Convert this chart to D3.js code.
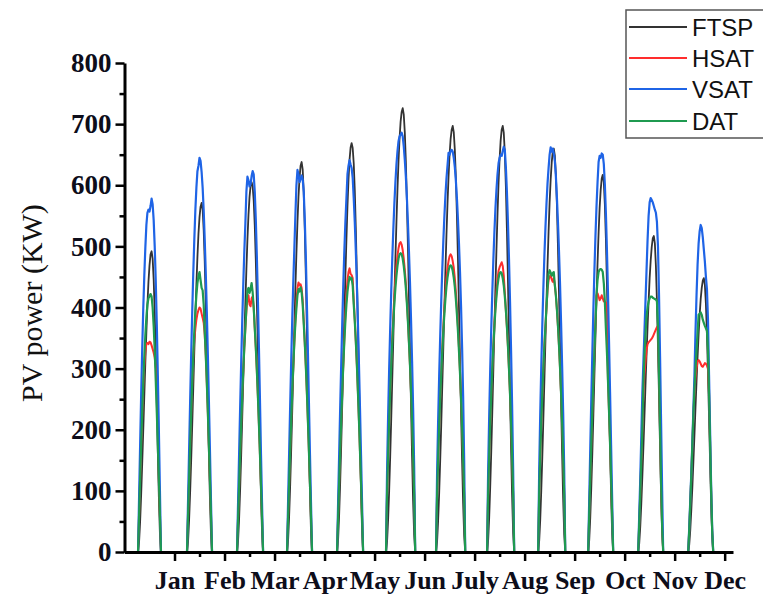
<!DOCTYPE html>
<html>
<head>
<meta charset="utf-8">
<script src="https://cdn.jsdelivr.net/npm/d3@7"></script>
<style>
  html, body { margin: 0; padding: 0; background: #ffffff; }
  svg { display: block; }
</style>
</head>
<body>
<svg id="chart" width="763" height="599"></svg>
<script>
// Month tick labels (one representative day per month, 24 h each)
const months = ["Jan", "Feb", "Mar", "Apr", "May", "Jun", "July", "Aug", "Sep", "Oct", "Nov", "Dec"];

// Hour of the first daylight sample for each month's day, and sample step (h)
const dayStart = [6.5, 6, 6, 6, 6, 5.5, 5.5, 6, 6.5, 6.5, 6.5, 6.5];
const stepHours = 0.5;

// PV power (kW), half-hourly daylight samples per month
const FTSP = [
  [0, 17, 50, 94, 145, 199, 255, 310, 360, 405, 442, 469, 487, 492, 480, 446, 391, 321, 243, 162, 89, 30, 0],
  [0, 17, 52, 98, 150, 208, 268, 328, 385, 437, 483, 521, 548, 565, 571, 560, 527, 475, 407, 328, 244, 162, 87, 29, 0],
  [0, 18, 55, 103, 159, 220, 284, 347, 408, 463, 512, 552, 581, 599, 605, 598, 575, 535, 478, 410, 335, 255, 172, 95, 32, 0],
  [0, 19, 58, 109, 168, 232, 299, 366, 431, 489, 540, 582, 612, 632, 638, 626, 589, 530, 454, 366, 272, 181, 98, 33, 0],
  [0, 20, 61, 114, 176, 244, 314, 384, 452, 512, 566, 610, 642, 662, 669, 661, 636, 592, 529, 454, 370, 282, 190, 105, 35, 0],
  [0, 17, 53, 100, 156, 218, 284, 350, 417, 481, 540, 594, 640, 677, 704, 720, 726, 716, 687, 640, 576, 501, 417, 328, 240, 156, 83, 28, 0],
  [0, 17, 51, 96, 150, 209, 273, 336, 400, 461, 519, 570, 614, 650, 676, 691, 697, 687, 659, 614, 553, 481, 400, 315, 230, 150, 80, 27, 0],
  [0, 19, 56, 107, 165, 230, 298, 367, 434, 496, 553, 604, 643, 673, 691, 697, 686, 653, 599, 528, 445, 354, 261, 171, 92, 31, 0],
  [0, 18, 53, 101, 156, 218, 282, 347, 411, 470, 524, 572, 609, 637, 655, 660, 649, 618, 568, 500, 422, 335, 247, 162, 87, 29, 0],
  [0, 19, 56, 106, 162, 225, 289, 354, 416, 473, 522, 563, 592, 611, 617, 605, 569, 513, 439, 354, 263, 175, 94, 31, 0],
  [0, 14, 42, 79, 123, 171, 221, 272, 322, 368, 410, 448, 477, 499, 513, 517, 505, 468, 410, 337, 255, 171, 93, 32, 0],
  [0, 12, 36, 69, 106, 148, 191, 236, 279, 319, 356, 388, 414, 432, 444, 448, 437, 406, 356, 292, 221, 148, 81, 27, 0]
];

const HSAT = [
  [0, 60, 119, 175, 225, 271, 305, 328, 340, 342, 340, 344, 343, 338, 332, 326, 318, 303, 290, 250, 119, 60, 0],
  [0, 60, 118, 174, 228, 277, 320, 348, 365, 380, 390, 396, 400, 398, 390, 383, 375, 355, 322, 277, 228, 174, 118, 60, 0],
  [0, 54, 108, 160, 210, 256, 298, 335, 367, 395, 415, 420, 405, 402, 415, 418, 400, 367, 335, 298, 256, 210, 160, 108, 54, 0],
  [0, 57, 112, 165, 216, 263, 305, 343, 380, 410, 432, 441, 436, 438, 432, 412, 380, 343, 305, 263, 216, 165, 112, 57, 0],
  [0, 56, 112, 165, 216, 263, 307, 350, 390, 420, 445, 458, 464, 455, 453, 448, 412, 380, 345, 307, 263, 216, 165, 112, 56, 0],
  [0, 95, 158, 213, 262, 310, 352, 388, 420, 447, 468, 485, 497, 505, 507, 503, 494, 480, 462, 440, 412, 380, 343, 305, 262, 213, 158, 95, 0],
  [0, 91, 152, 204, 251, 295, 335, 370, 400, 426, 448, 465, 476, 484, 487, 484, 476, 465, 448, 426, 400, 370, 335, 295, 251, 204, 152, 91, 0],
  [0, 94, 157, 211, 258, 300, 337, 372, 402, 426, 447, 460, 466, 470, 474, 468, 452, 425, 396, 369, 337, 300, 258, 211, 157, 94, 0],
  [0, 94, 157, 212, 259, 301, 338, 370, 400, 428, 445, 450, 453, 446, 442, 448, 437, 420, 397, 370, 338, 301, 259, 212, 157, 94, 0],
  [0, 60, 120, 177, 231, 281, 327, 380, 420, 423, 418, 412, 415, 420, 415, 410, 409, 408, 407, 281, 231, 177, 120, 60, 0],
  [0, 45, 95, 150, 200, 260, 290, 310, 330, 340, 343, 345, 347, 349, 352, 356, 360, 364, 368, 370, 290, 200, 110, 40, 0],
  [0, 35, 80, 125, 175, 225, 260, 285, 300, 312, 314, 312, 308, 304, 303, 306, 309, 308, 305, 300, 260, 180, 100, 35, 0]
];

const VSAT = [
  [0, 90, 175, 258, 332, 398, 452, 498, 535, 555, 560, 557, 566, 578, 569, 543, 500, 443, 372, 289, 198, 100, 0],
  [0, 84, 167, 247, 323, 393, 456, 511, 559, 596, 623, 632, 645, 640, 622, 596, 559, 511, 456, 393, 323, 247, 167, 84, 0],
  [0, 81, 161, 237, 310, 378, 438, 492, 537, 590, 614, 608, 598, 602, 615, 623, 618, 590, 545, 485, 415, 335, 250, 160, 80, 0],
  [0, 82, 162, 239, 313, 381, 442, 496, 550, 600, 625, 618, 605, 610, 616, 610, 590, 545, 485, 410, 330, 245, 160, 80, 0],
  [0, 80, 159, 236, 308, 376, 438, 493, 540, 579, 618, 632, 641, 634, 628, 612, 579, 540, 493, 438, 376, 308, 236, 159, 80, 0],
  [0, 133, 222, 299, 366, 427, 480, 528, 570, 605, 634, 656, 672, 680, 683, 686, 680, 664, 642, 615, 580, 540, 492, 440, 380, 312, 235, 140, 0],
  [0, 128, 214, 288, 353, 411, 463, 509, 549, 583, 611, 632, 653, 650, 656, 658, 655, 645, 630, 608, 580, 545, 505, 458, 402, 335, 255, 150, 0],
  [0, 133, 222, 299, 366, 425, 478, 523, 562, 593, 618, 636, 645, 650, 648, 656, 663, 658, 630, 590, 540, 480, 410, 330, 240, 135, 0],
  [0, 135, 226, 304, 372, 432, 485, 531, 570, 603, 628, 650, 662, 655, 660, 652, 640, 615, 580, 540, 492, 438, 375, 305, 228, 135, 0],
  [0, 85, 169, 250, 326, 397, 461, 517, 565, 605, 638, 648, 645, 652, 650, 635, 602, 555, 495, 425, 345, 262, 175, 88, 0],
  [0, 60, 120, 190, 260, 310, 360, 410, 460, 510, 550, 572, 579, 576, 572, 566, 560, 555, 540, 500, 420, 320, 210, 100, 0],
  [0, 40, 85, 130, 180, 235, 290, 360, 420, 470, 505, 525, 535, 530, 515, 495, 475, 450, 430, 380, 290, 200, 110, 40, 0]
];

const DAT = [
  [0, 60, 119, 175, 228, 276, 319, 355, 384, 405, 415, 418, 422, 418, 400, 370, 330, 280, 228, 175, 119, 60, 0],
  [0, 60, 118, 174, 228, 277, 322, 361, 394, 420, 440, 451, 458, 445, 432, 428, 405, 361, 322, 277, 228, 174, 118, 60, 0],
  [0, 54, 108, 160, 210, 256, 298, 335, 367, 400, 428, 432, 424, 430, 440, 425, 400, 367, 335, 298, 256, 210, 160, 108, 54, 0],
  [0, 57, 112, 165, 216, 263, 305, 343, 374, 399, 420, 430, 426, 433, 425, 405, 374, 343, 305, 263, 216, 165, 112, 57, 0],
  [0, 56, 112, 165, 216, 263, 307, 345, 378, 405, 426, 440, 450, 446, 448, 436, 405, 378, 345, 307, 263, 216, 165, 112, 56, 0],
  [0, 95, 158, 213, 262, 305, 343, 377, 407, 432, 452, 468, 480, 487, 489, 487, 480, 468, 452, 432, 407, 377, 343, 305, 262, 213, 158, 95, 0],
  [0, 91, 152, 204, 251, 292, 329, 362, 390, 414, 434, 449, 460, 467, 469, 467, 460, 449, 434, 414, 390, 362, 329, 292, 251, 204, 152, 91, 0],
  [0, 94, 157, 211, 258, 300, 337, 369, 396, 418, 436, 448, 456, 458, 456, 448, 436, 418, 396, 369, 337, 300, 258, 211, 157, 94, 0],
  [0, 94, 157, 212, 259, 301, 338, 370, 400, 432, 455, 461, 457, 452, 456, 458, 437, 420, 397, 370, 338, 301, 259, 212, 157, 94, 0],
  [0, 60, 120, 177, 231, 281, 327, 375, 420, 445, 458, 462, 463, 462, 458, 440, 410, 366, 327, 281, 231, 177, 120, 60, 0],
  [0, 45, 95, 150, 200, 275, 320, 355, 385, 400, 410, 415, 418, 418, 416, 415, 414, 413, 410, 370, 290, 200, 110, 40, 0],
  [0, 35, 80, 125, 175, 225, 265, 300, 330, 360, 388, 390, 392, 388, 380, 375, 370, 366, 362, 330, 260, 180, 100, 35, 0]
];

// Series in drawing order (last one on top)
const seriesNames = ["FTSP", "HSAT", "VSAT", "DAT"];
const seriesData = [FTSP, HSAT, VSAT, DAT];
const seriesColors = ["#333333", "#ff2d2d", "#1f64e6", "#1f9a50"];

const yTicks = [0, 100, 200, 300, 400, 500, 600, 700, 800];

const svg = d3.select("#chart");

const x = d3.scaleLinear().domain([0, 292]).range([124.5, 733]);
const y = d3.scaleLinear().domain([0, 800]).range([552, 63]);

// Turn one series (12 daily profiles) into a continuous hourly time line
function toPoints(profiles) {
  const pts = [];
  profiles.forEach((vals, m) => {
    const base = m * 24;
    pts.push([base, 0]);
    vals.forEach((v, k) => pts.push([base + dayStart[m] + k * stepHours, v]));
    pts.push([base + 24, 0]);
  });
  return pts;
}

const line = d3.line().x(d => x(d[0])).y(d => y(d[1]));

const lineWidths = [1.8, 2, 2.2, 2.2];
seriesData.forEach((profiles, i) => {
  svg.append("path")
    .datum(toPoints(profiles))
    .attr("fill", "none")
    .attr("stroke", seriesColors[i])
    .attr("stroke-width", lineWidths[i])
    .attr("stroke-linejoin", "round")
    .attr("d", line);
});

// Axes
const axisFont = "bold 26px 'Liberation Serif', 'Times New Roman', serif";

svg.append("g")
  .attr("class", "y-major")
  .attr("transform", `translate(${x(0)},0)`)
  .call(d3.axisLeft(y).tickValues(yTicks).tickSize(9).tickSizeOuter(0).tickPadding(4));
svg.append("g")
  .attr("transform", `translate(${x(0)},0)`)
  .call(d3.axisLeft(y).tickValues(d3.range(50, 800, 100)).tickSize(5).tickFormat(""))
  .call(g => g.select(".domain").remove());

const majorHours = months.map((m, i) => (i + 1) * 24);
const minorHours = months.slice(0, 11).map((m, i) => (i + 1) * 24 + 12);

svg.append("g")
  .attr("class", "x-major")
  .attr("transform", `translate(0,${y(0)})`)
  .call(d3.axisBottom(x).tickValues(majorHours).tickSize(9).tickSizeOuter(0).tickPadding(10)
    .tickFormat((d, i) => months[i]));
svg.append("g")
  .attr("transform", `translate(0,${y(0)})`)
  .call(d3.axisBottom(x).tickValues(minorHours).tickSize(5).tickFormat(""))
  .call(g => g.select(".domain").remove());

svg.selectAll(".domain").attr("stroke", "#000").attr("stroke-width", 3);
svg.selectAll(".tick line").attr("stroke", "#000").attr("stroke-width", 2.5);
svg.selectAll(".tick text").style("font", axisFont).attr("fill", "#0d0d1a");
svg.selectAll(".y-major .tick text").style("font-size", "27px");

// Y-axis title
svg.append("text")
  .attr("transform", "translate(42,303) rotate(-90)")
  .attr("text-anchor", "middle")
  .style("font", "30px 'Liberation Serif', 'Times New Roman', serif")
  .attr("fill", "#111")
  .text("PV power (KW)");

// Legend
const legend = svg.append("g");
legend.append("rect")
  .attr("x", 626).attr("y", 10).attr("width", 140).attr("height", 128)
  .attr("fill", "#fff").attr("stroke", "#555").attr("stroke-width", 1.5);
const rowY = [27, 58, 89, 121];
seriesNames.forEach((name, i) => {
  legend.append("line")
    .attr("x1", 629).attr("x2", 687).attr("y1", rowY[i]).attr("y2", rowY[i])
    .attr("stroke", seriesColors[i]).attr("stroke-width", 2.2);
  legend.append("text")
    .attr("x", 692).attr("y", rowY[i] + 9)
    .style("font", "24px 'Liberation Sans', Arial, sans-serif")
    .attr("fill", "#111")
    .text(name);
});
</script>
</body>
</html>
